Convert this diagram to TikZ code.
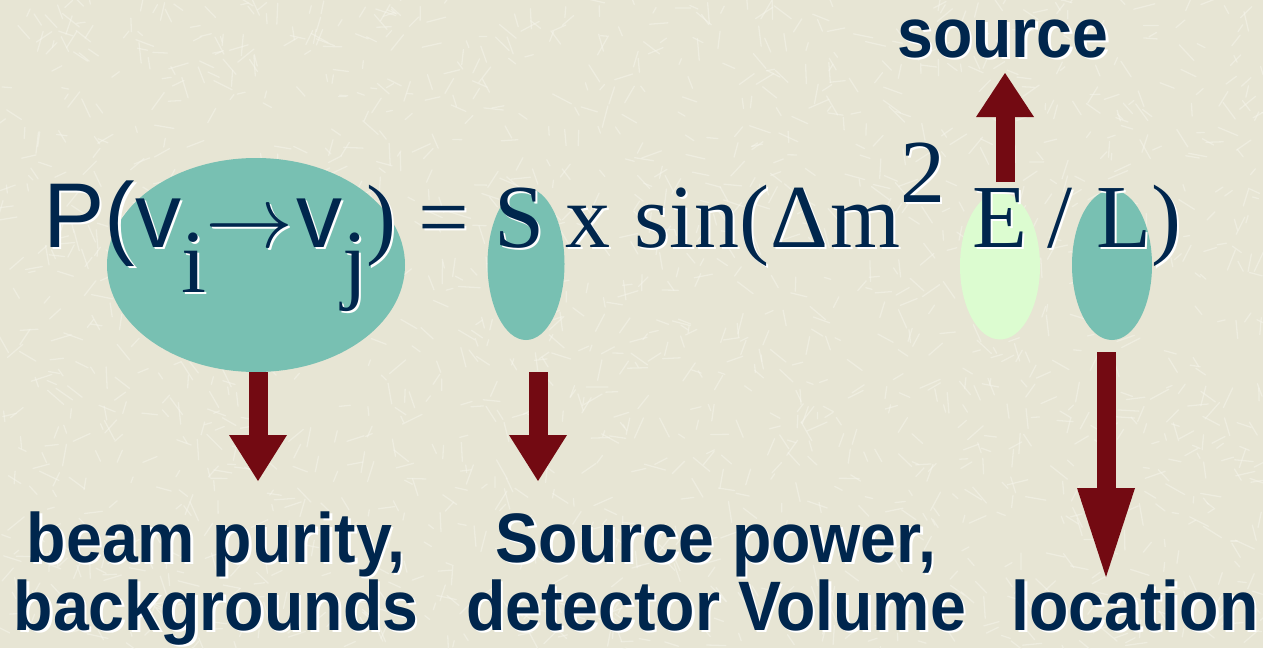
\documentclass[tikz,border=0pt]{standalone}
\usepackage{fontspec}
\usetikzlibrary{shapes.geometric,arrows.meta}
\newfontfamily\serf{Liberation Serif}
\newfontfamily\sanf{Liberation Sans}
\newfontfamily\labf{Liberation Sans}[FakeStretch=0.92]
\definecolor{bgc}{HTML}{E7E5D4}
\definecolor{streak}{HTML}{F6F5EC}
\definecolor{navy}{HTML}{00264D}
\definecolor{teal}{HTML}{78C0B2}
\definecolor{pale}{HTML}{DCFCD0}
\definecolor{maroon}{HTML}{730A12}
\newcommand{\shd}[1]{\makebox[0pt][l]{\hspace{2.5pt}\raisebox{-2.5pt}{\color{white}#1}}#1}
\newcommand{\bigrarrow}{\scalebox{8.8}{\fontsize{10}{12}\selectfont$\rightarrow$}}
\tikzset{
  ser/.style={anchor=base west, inner sep=0pt, text=navy, font=\serf\fontsize{90}{90}\selectfont},
  san/.style={anchor=base west, inner sep=0pt, text=navy, font=\sanf\fontsize{92}{92}\selectfont},
  lab/.style={anchor=base, inner sep=0pt, align=center, text=navy, font=\labf\bfseries\fontsize{70}{68}\selectfont},
  blob/.style={ellipse, inner sep=0pt, outer sep=0pt, draw=none},
  bigarrow/.style={maroon, line width=19pt, -{Triangle[width=58pt, length=#1, line width=0pt]}},
  texl/.style={streak, line width=1.3pt, opacity=0.5, line cap=round}
}
\begin{document}
\begin{tikzpicture}[x=1pt, y=-1pt]
\useasboundingbox (0,0) rectangle (1263,648);
\fill[bgc] (0,0) rectangle (1263,648);
% texture
\pgfmathsetseed{4242}
\foreach \i in {1,...,1800}{
  \pgfmathsetmacro\xx{rnd*1263}
  \pgfmathsetmacro\yy{rnd*648}
  \pgfmathsetmacro\aa{rnd*360}
  \pgfmathsetmacro\ll{6+rnd*16}
  \draw[texl] (\xx,\yy) -- ++(\aa:\ll);
}
% highlight ellipses
\node[blob, fill=teal, minimum width=298pt, minimum height=214pt] (ellP) at (256,265) {};
\node[blob, fill=teal, minimum width=77pt, minimum height=152pt] (ellS) at (526,264) {};
\node[blob, fill=pale, minimum width=80pt, minimum height=147pt] (ellE) at (1000,266) {};
\node[blob, fill=teal, minimum width=80pt, minimum height=150pt] (ellL) at (1112,265) {};
% formula
\node[san] (f1) at (43,247) {\shd{P(v}};
\node[ser] (f2) at (181,292) {\shd{i}};
\node[ser] (f3) at (205,247) {\shd{\bigrarrow}};
\node[san] (f4) at (296,247) {\shd{v}};
\node[ser] (f5) at (342,292) {\shd{j}};
\node[ser] (f6) at (366,247) {\shd{)}};
\node[ser] (f7) at (418,247) {\shd{=}};
\node[ser] (f8) at (494,247) {\shd{S}};
\node[ser] (f9) at (565,247) {\shd{x}};
\node[ser] (f10) at (634,247) {\shd{sin(}};
\node[ser] (f11) at (770,247) {\shd{Δ}};
\node[ser] (f12) at (830,247) {\shd{m}};
\node[ser] (f13) at (900,202) {\shd{2}};
\node[ser] (f14) at (972,247) {\shd{E}};
\node[ser] (f15) at (1047,247) {\shd{/}};
\node[ser] (f16) at (1096,247) {\shd{L}};
\node[ser] (f17) at (1151,247) {\shd{)}};
% labels
\node[lab] (src) at (1003,57) {\shd{source}};
\node[lab] (lab1) at (216,630) {\shd{beam purity,}\\\shd{backgrounds}};
\node[lab] (lab2) at (716,630) {\shd{Source power,}\\\shd{detector Volume}};
\node[lab] (lab3) at (1135,630) {\shd{location}};
% arrows
\coordinate (t1) at (258,481);
\coordinate (s2) at (538,372);
\coordinate (t2) at (538,481);
\coordinate (s3) at (1005,182);
\coordinate (t3) at (1005,73);
\coordinate (s4) at (1106,352);
\coordinate (t4) at (1106,577);
\draw[bigarrow=46pt] (ellP.south -| t1) -- (t1);
\draw[bigarrow=46pt] (s2) -- (t2);
\draw[bigarrow=44pt] (s3) -- (t3);
\draw[bigarrow=89pt] (s4) -- (t4);
\end{tikzpicture}
\end{document}
